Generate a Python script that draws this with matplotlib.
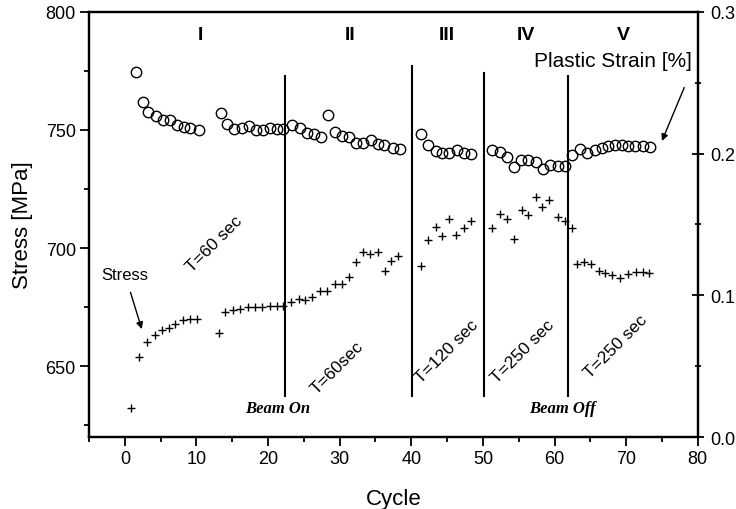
import matplotlib.pyplot as plt
from matplotlib.ticker import MultipleLocator

plt.rcParams["font.family"] = ["Liberation Sans", "DejaVu Sans"]

# Stress readings (crosses, left axis)
stress_cycle = [0.9, 2.0, 3.1, 4.2, 5.2, 6.1, 7.0, 8.1, 9.1, 10.1,
                13.1, 14.0, 15.1, 16.1, 17.2, 18.2, 19.2, 20.3, 21.3, 22.1,
                23.2, 24.3, 25.2, 26.2, 27.3, 28.2, 29.3, 30.3, 31.3, 32.3,
                33.2, 34.3, 35.4, 36.3, 37.2, 38.2,
                41.3, 42.3, 43.4, 44.3, 45.3, 46.3, 47.4, 48.3,
                51.3, 52.4, 53.3, 54.3, 55.4, 56.3, 57.4, 58.3, 59.3, 60.5, 61.4, 62.4,
                63.1, 64.1, 65.1, 66.2, 67.1, 68.0, 69.2, 70.3, 71.4, 72.4, 73.2]
stress = [632.1, 654.0, 660.3, 663.3, 665.3, 666.2, 667.7, 669.5, 669.9, 669.9,
          663.9, 673.0, 673.7, 674.2, 674.9, 674.9, 675.1, 675.6, 675.6, 675.6,
          677.0, 678.4, 678.1, 679.4, 681.9, 681.9, 684.8, 684.8, 687.6, 694.2,
          698.2, 697.5, 698.4, 690.4, 694.4, 696.8,
          692.5, 703.5, 708.8, 705.2, 712.3, 705.6, 708.4, 711.6,
          708.5, 714.4, 712.3, 703.8, 716.1, 714.1, 721.5, 717.5, 720.3, 713.3, 711.6, 708.4,
          693.2, 693.9, 693.2, 690.4, 689.3, 688.6, 687.2, 689.0, 689.7, 689.7, 689.3]

# Plastic strain readings (open circles, right axis)
strain_cycle = [1.5, 2.5, 3.3, 4.3, 5.3, 6.3, 7.3, 8.2, 9.1, 10.4,
                13.4, 14.3, 15.3, 16.4, 17.4, 18.3, 19.3, 20.3, 21.3, 22.1,
                23.3, 24.4, 25.4, 26.4, 27.4, 28.4, 29.3, 30.3, 31.3, 32.3,
                33.2, 34.4, 35.3, 36.2, 37.4, 38.4,
                41.4, 42.4, 43.4, 44.3, 45.3, 46.4, 47.4, 48.4,
                51.3, 52.4, 53.4, 54.3, 55.3, 56.3, 57.4, 58.4, 59.4, 60.5, 61.4,
                62.5, 63.5, 64.5, 65.6, 66.6, 67.5, 68.5, 69.4, 70.3, 71.3, 72.3, 73.3]
strain = [0.2574, 0.2363, 0.2296, 0.2264, 0.2233, 0.2233, 0.2202, 0.2186, 0.2179, 0.2167,
          0.2285, 0.2205, 0.2174, 0.2181, 0.2193, 0.2169, 0.2169, 0.2181, 0.2174, 0.2174,
          0.2200, 0.2177, 0.2145, 0.2139, 0.2116, 0.2275, 0.2151, 0.2127, 0.2120, 0.2072,
          0.2072, 0.2092, 0.2070, 0.2060, 0.2040, 0.2030,
          0.2135, 0.2060, 0.2021, 0.2005, 0.2005, 0.2027, 0.2005, 0.1997,
          0.2026, 0.2010, 0.1974, 0.1904, 0.1957, 0.1955, 0.1939, 0.1892, 0.1922, 0.1915, 0.1911,
          0.1990, 0.2030, 0.2005, 0.2028, 0.2038, 0.2050, 0.2063, 0.2061, 0.2056, 0.2056, 0.2052, 0.2045]

# Stage boundaries
boundary_x = [22.4, 40.1, 50.2, 61.9]
boundary_top = [773, 777, 774, 773]
boundary_bottom = 637.5

stage_labels = ["I", "II", "III", "IV", "V"]
stage_x = [10.6, 31.4, 44.9, 56.0, 69.6]

period_labels = ["T=60 sec", "T=60sec", "T=120 sec", "T=250 sec", "T=250 sec"]
period_x = [12.5, 29.6, 45.0, 55.6, 68.6]
period_y = [702.1, 649.6, 656.4, 656.4, 658.5]

fig = plt.figure(figsize=(7.36, 5.10), dpi=100)
ax = fig.add_axes([0.121, 0.141, 0.827, 0.834])
ax2 = ax.twinx()

for x, top in zip(boundary_x, boundary_top):
    ax.plot([x, x], [boundary_bottom, top], color="black", linewidth=1.5)

ax.plot(stress_cycle, stress, linestyle="none", marker="+", markersize=6,
        markeredgewidth=1.0, color="black")
ax2.plot(strain_cycle, strain, linestyle="none", marker="o", markersize=7.5,
         markerfacecolor="none", markeredgecolor="black", markeredgewidth=1.0)

ax.set_xlim(-5, 80)
ax.set_ylim(620, 800)
ax2.set_ylim(0.0, 0.3)

ax.xaxis.set_major_locator(MultipleLocator(10))
ax.xaxis.set_minor_locator(MultipleLocator(5))
ax.yaxis.set_major_locator(MultipleLocator(50))
ax.yaxis.set_minor_locator(MultipleLocator(25))
ax2.yaxis.set_major_locator(MultipleLocator(0.1))
ax2.yaxis.set_minor_locator(MultipleLocator(0.05))
ax2.set_yticklabels(["%.1f" % v for v in ax2.get_yticks()])

ax.tick_params(axis="both", which="major", direction="out", length=6.5, width=1.3,
               labelsize=13, pad=3)
ax.tick_params(axis="both", which="minor", direction="out", length=3.5, width=1.3)
ax2.tick_params(axis="y", which="major", direction="inout", length=8, width=1.3,
                labelsize=13, pad=5)
ax2.tick_params(axis="y", which="minor", direction="inout", length=5, width=1.3)

for a in (ax, ax2):
    for s in a.spines.values():
        s.set_linewidth(1.6)

ax.set_xlabel("Cycle", fontsize=16, labelpad=15)
ax.set_ylabel("Stress [MPa]", fontsize=16, labelpad=9)

for label, x in zip(stage_labels, stage_x):
    ax.text(x, 790.5, label, fontsize=14, fontweight="bold", ha="center", va="center")

for label, x, y in zip(period_labels, period_x, period_y):
    ax.text(x, y, label, fontsize=12.5, rotation=45, ha="center", va="center",
            rotation_mode="anchor")

ax.text(21.4, 632.2, "Beam On", family="Liberation Serif", fontsize=12,
        fontweight="bold", style="italic", ha="center", va="center")
ax.text(61.1, 632.2, "Beam Off", family="Liberation Serif", fontsize=12,
        fontweight="bold", style="italic", ha="center", va="center")

ax.annotate("Stress", xy=(2.36, 665.7), xytext=(0.0, 689.0), fontsize=12,
            ha="center", va="center",
            arrowprops=dict(arrowstyle="-|>", color="black", lw=1.0,
                            shrinkA=6, shrinkB=0, mutation_scale=10))
ax.annotate("Plastic Strain [%]", xy=(75.0, 745.3), xytext=(68.2, 779.2), fontsize=15,
            ha="center", va="center",
            arrowprops=dict(arrowstyle="-|>", color="black", lw=1.0,
                            shrinkA=0, shrinkB=0, mutation_scale=10,
                            relpos=(0.95, -0.9)))

fig.savefig("out.png", dpi=100)
